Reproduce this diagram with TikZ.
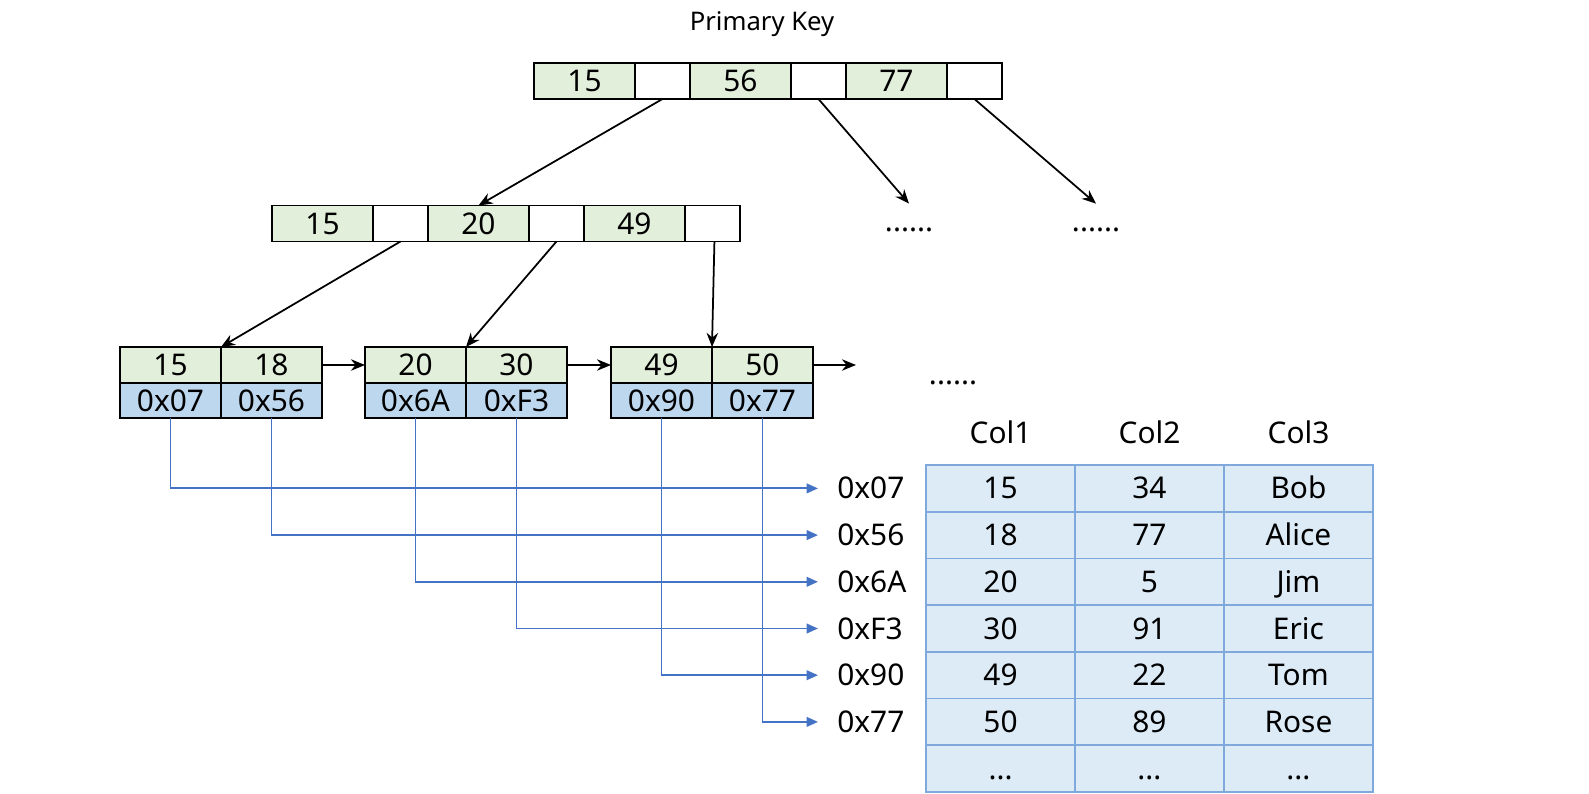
\documentclass[tikz,border=0pt]{standalone}
\usepackage{fontspec}
\setmainfont{Noto Sans}
\usepackage{xcolor}
\usepackage{tikz}
\usetikzlibrary{arrows.meta, positioning}
\definecolor{keygreen}{HTML}{E2EFDA}
\definecolor{addrblue}{HTML}{BDD7EE}
\definecolor{rowblue}{HTML}{DDEBF7}
\definecolor{gridblue}{HTML}{7FA8DC}
\definecolor{linkblue}{HTML}{4472C4}
\newcommand{\rowdots}{...}
\tikzset{
    cell/.style={
        rectangle, draw=black, line width=1.1pt,
        minimum height=0.72cm, inner sep=0pt, outer sep=0pt,
        text height=12pt, text depth=0pt,
        font=\fontsize{17}{20}\selectfont
    },
    keycell/.style={cell, fill=keygreen, minimum width=2.02cm},
    ptrcell/.style={cell, fill=white, minimum width=1.1cm},
    addrcell/.style={cell, fill=addrblue, minimum width=2.02cm, minimum height=0.7cm},
    rowcell/.style={
        rectangle, draw=gridblue, line width=1pt, fill=rowblue,
        minimum width=2.98cm, minimum height=0.934cm, inner sep=0pt, outer sep=0pt,
        text height=12pt, text depth=0pt,
        font=\fontsize{17}{20}\selectfont
    },
    plain/.style={font=\fontsize{17}{20}\selectfont, inner sep=0pt},
    addr/.style={plain, anchor=west, inner xsep=0.38cm, text height=12pt, text depth=0pt},
    line/.style={draw, -{Stealth[length=8pt, width=6.5pt]}, line width=1pt},
    link/.style={draw=linkblue, -{Triangle[length=6.5pt, width=5.5pt]}, line width=1.1pt, color=linkblue}
}
\begin{document}
\begin{tikzpicture}[x=0.02cm, y=-0.02cm]
    \useasboundingbox (0,0) rectangle (1589,794);

    % Root
    \node [font=\fontsize{14.6}{17}\selectfont] (title) at (762,24) {Primary Key};
    \node [keycell] (t1) at (584.5,81) {15};
    \node [ptrcell, right=0pt of t1] (t2) {};
    \node [keycell, right=0pt of t2] (t3) {56};
    \node [ptrcell, right=0pt of t3] (t4) {};
    \node [keycell, right=0pt of t4] (t5) {77};
    \node [ptrcell, right=0pt of t5] (t6) {};

    % Inner node
    \node [keycell] (m1) at (322.5,223.5) {15};
    \node [ptrcell, right=0pt of m1] (m2) {};
    \node [keycell, right=0pt of m2] (m3) {20};
    \node [ptrcell, right=0pt of m3] (m4) {};
    \node [keycell, right=0pt of m4] (m5) {49};
    \node [ptrcell, right=0pt of m5] (m6) {};

    \node [plain] (more1) at (909,230) {......};
    \node [plain] (more2) at (1096,230) {......};

    % Leaves
    \node [keycell] (k1) at (170.5,365) {15};
    \node [keycell, right=0pt of k1] (k2) {18};
    \node [addrcell, below=0pt of k1] (p1) {0x07};
    \node [addrcell, below=0pt of k2] (p2) {0x56};

    \node [keycell] (k3) at (415.5,365) {20};
    \node [keycell, right=0pt of k3] (k4) {30};
    \node [addrcell, below=0pt of k3] (p3) {0x6A};
    \node [addrcell, below=0pt of k4] (p4) {0xF3};

    \node [keycell] (k5) at (661.5,365) {49};
    \node [keycell, right=0pt of k5] (k6) {50};
    \node [addrcell, below=0pt of k5] (p5) {0x90};
    \node [addrcell, below=0pt of k6] (p6) {0x77};

    \coordinate (next) at (856,365);
    \node [plain] (more3) at (953,383) {......};

    % Table
    \node [plain] (c1) at (1000.5,432) {Col1};
    \node [plain] (c2) at (1149.5,432) {Col2};
    \node [plain] (c3) at (1298.5,432) {Col3};
    \foreach \i/\a/\b/\c in {1/15/34/Bob, 2/18/77/Alice, 3/20/5/Jim, 4/30/91/Eric,
                             5/49/22/Tom, 6/50/89/Rose, 7/\rowdots/\rowdots/\rowdots} {
        \node [rowcell] (r\i a) at (1000.5,{441.7+46.7*\i}) {\a};
        \node [rowcell, right=0pt of r\i a] (r\i b) {\b};
        \node [rowcell, right=0pt of r\i b] (r\i c) {\c};
    }

    \node [addr] (a1) at (818,488.4) {0x07};
    \node [addr] (a2) at (818,535.1) {0x56};
    \node [addr] (a3) at (818,581.8) {0x6A};
    \node [addr] (a4) at (818,628.5) {0xF3};
    \node [addr] (a5) at (818,675.2) {0x90};
    \node [addr] (a6) at (818,721.9) {0x77};

    % Tree pointers
    \draw [line] (t2.south) -- (m3.north);
    \draw [line] (t4.south) -- ([yshift=0.48cm]more1.north);
    \draw [line] (t6.south) -- ([yshift=0.48cm]more2.north);
    \draw [line] (m2.south) -- (k1.north east);
    \draw [line] (m4.south) -- (k3.north east);
    \draw [line] ([xshift=0.04cm]m6.south) -- (k5.north east);

    % Leaf chain
    \draw [line] (k2.east) -- (k3.west);
    \draw [line] (k4.east) -- (k5.west);
    \draw [line] (k6.east) -- (next);

    % Row pointers
    \draw [link] (p1.south) |- (a1.west);
    \draw [link] (p2.south) |- (a2.west);
    \draw [link] (p3.south) |- (a3.west);
    \draw [link] (p4.south) |- (a4.west);
    \draw [link] (p5.south) |- (a5.west);
    \draw [link] (p6.south) |- (a6.west);
\end{tikzpicture}
\end{document}
